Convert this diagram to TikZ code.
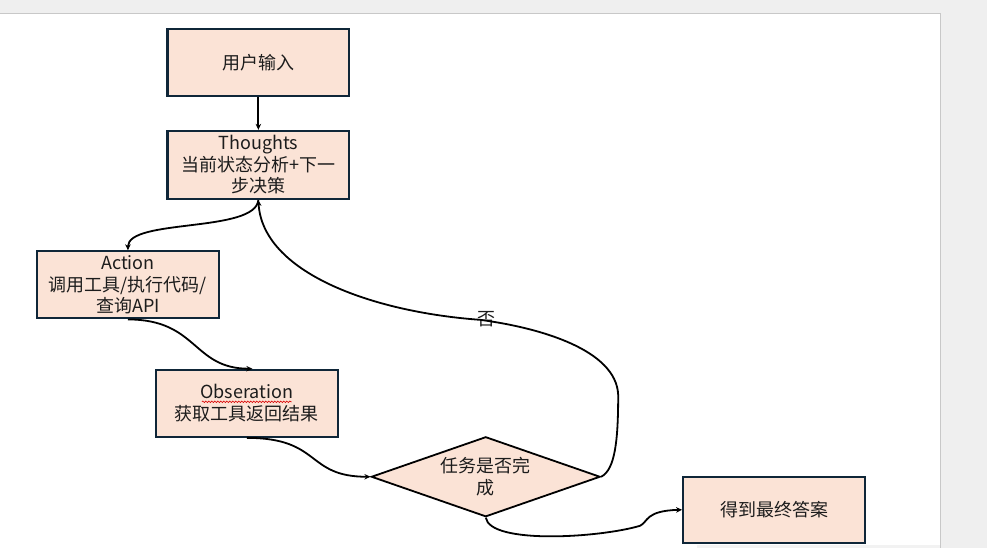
\documentclass[tikz,border=0pt]{standalone}
\usepackage{fontspec}
\setmainfont{Noto Sans CJK SC}
\usetikzlibrary{shapes.geometric,arrows.meta,decorations.pathmorphing,calc}
\definecolor{boxfill}{HTML}{FBE3D6}
\definecolor{boxline}{HTML}{0F2638}
\definecolor{txt}{HTML}{1C1C1C}
\definecolor{bgc}{HTML}{EFEFEF}
\definecolor{pageedge}{HTML}{C8C8C8}
\begin{document}
\begin{tikzpicture}[x=1pt,y=-1pt,
  every node/.style={font=\fontsize{18}{21.5}\selectfont, text=txt},
  procbox/.style={draw=boxline, line width=2.2pt, fill=boxfill, rectangle,
    minimum width=182pt, minimum height=67pt, inner sep=0pt, align=center},
  decbox/.style={draw=black, line width=1.8pt, fill=boxfill, diamond,
    shape aspect=2.9, minimum width=229pt, minimum height=80pt, inner sep=0pt, align=center},
  conn/.style={draw=black, line width=1.8pt, -{Stealth[length=6pt,width=5.5pt]}},
  spell/.style={draw=red!85!black, line width=0.6pt, decorate,
    decoration={snake, amplitude=0.8pt, segment length=3pt}}]
% background / page
\fill[bgc] (0,0) rectangle (987,548);
\fill[white] (0,14) rectangle (940,548);
\fill[black!5] (697,545) rectangle (940,548);
\draw[pageedge, line width=1pt] (0,14) -- (940,14) -- (940,548);
\useasboundingbox (0,0) rectangle (987,548);

% nodes
\node[procbox] (inp) at (258,62.5) {用户输入};
\node[procbox, minimum height=68pt] (th) at (258,165) {Thoughts\\当前状态分析+下一\\步决策};
\node[procbox] (act) at (127.5,285) {Action\\调用工具/执行代码/\\查询API};
\node[procbox] (obs) at (246.5,403.5) {Obseration\\获取工具返回结果};
\node[decbox] (dec) at (485.5,477) {任务是否完\\成};
\node[procbox, minimum height=66pt] (fin) at (774,510) {得到最终答案};
\node (no) at (486,319) {否};

% spell-check squiggle
\draw[spell] ($(obs)+(-45,-1.5)$) -- ($(obs)+(45,-1.5)$);

% connectors
\draw[conn] (inp.south) -- (th.north);
\draw[conn] (th.south) .. controls +(-3,33) and +(0,-32) .. (act.north);
\draw[conn] (act.south) .. controls +(70,0) and +(-60,0) .. ([xshift=5.5pt]obs.north);
\draw[conn] (obs.south) .. controls +(75,0) and +(-65,0) .. (dec.west);
\draw[conn] (dec.east) .. controls (615,470) and (618,440) .. (618,395)
  .. controls (616,350) and (540,328) .. (480,320)
  .. controls (370,312) and (262,272) .. (th.south);
\draw[conn] (dec.south) .. controls (490,545) and (600,538) .. (640,526)
  .. controls (648,522) and (645,511) .. (fin.west);
\end{tikzpicture}
\end{document}
